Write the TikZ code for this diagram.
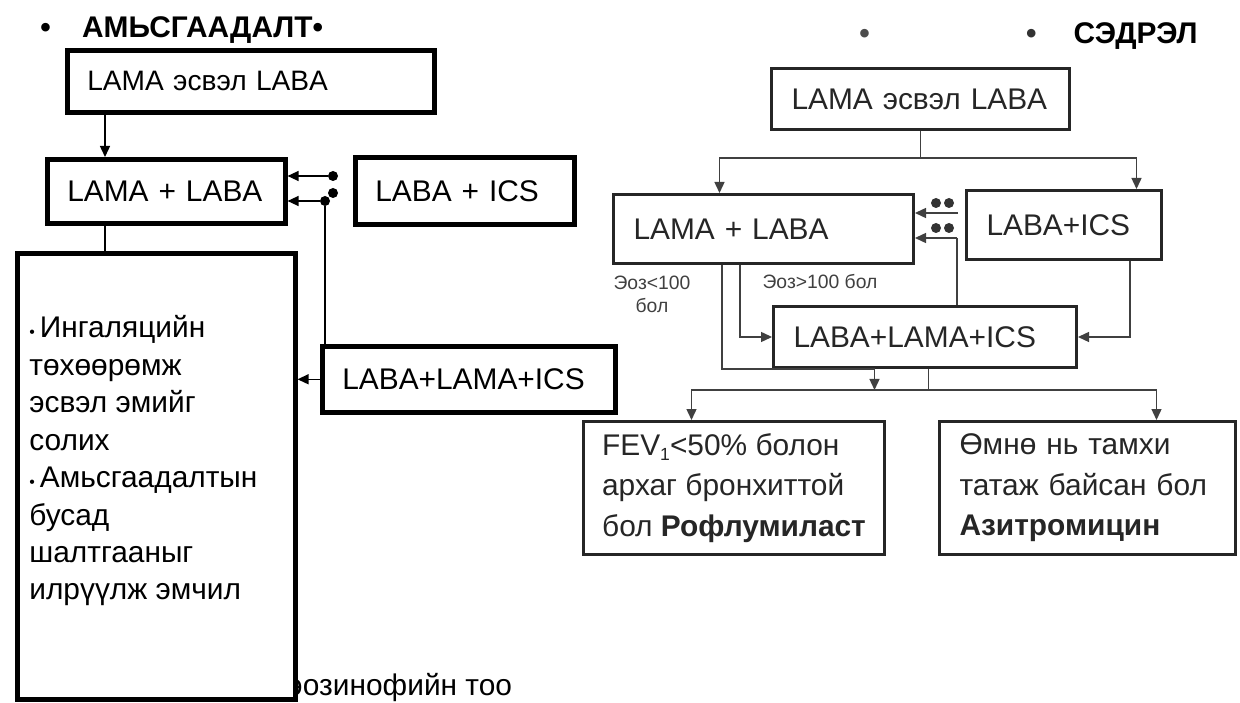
\documentclass[tikz,border=0pt]{standalone}
\usepackage{fontspec}
\setmainfont{Liberation Sans}
\usetikzlibrary{arrows.meta}

\tikzset{
  lbox/.style={draw=black, line width=2.6pt, fill=white, anchor=north west, align=left,
    inner xsep=4mm, inner ysep=0pt, font=\fontsize{17}{21}\selectfont},
  rbox/.style={draw=black!85, line width=1.7pt, fill=white, text=black!85, anchor=north west,
    align=left, inner xsep=4mm, inner ysep=0pt, font=\fontsize{17}{23}\selectfont},
  conn/.style={line width=0.8pt, -{Triangle[length=2.2mm,width=2mm]}},
  wire/.style={line width=0.8pt},
  dot/.style={circle, fill=black, inner sep=0pt, minimum size=2mm},
  note/.style={text=black!75, font=\fontsize{11}{13}\selectfont, align=center},
  heading/.style={font=\bfseries\fontsize{17}{20}\selectfont, anchor=west, inner sep=0pt}
}

\begin{document}
\begin{tikzpicture}[x=0.2mm, y=-0.2mm]
            % One unit is one pixel of the scan, y runs downwards.
            \fill[white] (0,0) rectangle (1240,700);

            % Left column: breathlessness.
            \node[heading] (lefttitle) at (40,30) {•\hspace{1.05em}АМЬСГААДАЛТ•};
            \node[lbox, minimum width=73.4mm, minimum height=12.4mm, text width=65.4mm,
                font=\fontsize{16}{20}\selectfont] (lamaor) at (65,48) {LAMA эсвэл LABA};
            \node[lbox, minimum width=47.6mm, minimum height=12.8mm, text width=39.6mm] (lamalaba) at (45,157) {LAMA + LABA};
            \node[lbox, minimum width=43.8mm, minimum height=13.4mm, text width=35.8mm] (labaics) at (353,155) {LABA + ICS};
            \node[lbox, minimum width=58.6mm, minimum height=13.2mm, text width=50.6mm] (triple) at (320,344) {LABA+LAMA+ICS};

            % The big box hides the first letter of the text below it.
            \node[anchor=west, inner sep=0pt, font=\fontsize{17}{21}\selectfont] (eoscount) at (287,688) {эозинофийн тоо};
            \node[lbox, minimum width=55.6mm, minimum height=89.2mm] (advice) at (15,251) {};
            \node[anchor=west, align=left, inner sep=0pt, font=\fontsize{17}{21.3}\selectfont] (advicetext) at (29,461)
                {{\small•}\,Ингаляцийн\\төхөөрөмж\\эсвэл эмийг\\солих\\{\small•}\,Амьсгаадалтын\\бусад\\шалтгааныг\\илрүүлж эмчил};

            \node[dot] (d1) at (333,176) {};
            \node[dot] (d2) at (333,193) {};
            \node[dot] (d3) at (325,201) {};

            \draw[conn] ([xshift=12mm]lamalaba.north west |- lamaor.south) -- ([xshift=12mm]lamalaba.north west);
            \draw[wire] ([xshift=12mm]lamalaba.south west) -- ([xshift=12mm]lamalaba.south west |- advice.north);
            \draw[conn] (d1) -- (d1 -| lamalaba.east);
            \draw[conn] (d3) -- (d3 -| lamalaba.east);
            \draw[wire] (d3) -- (d3 |- triple.north);
            \draw[conn] (triple.west) -- (triple.west -| advice.east);

            % Right column: exacerbations.
            \node[heading] (righttitle) at (859,36) {{\color{black!70}•}\hspace{89pt}{\color{black!80}•}\hspace{21pt}СЭДРЭЛ};
            \node[rbox, minimum width=59.6mm, minimum height=12.2mm, text width=51.6mm] (ror) at (770,67) {LAMA эсвэл LABA};
            \node[rbox, minimum width=60mm, minimum height=13.8mm, text width=52mm] (rlamalaba) at (612,193) {LAMA + LABA};
            \node[rbox, minimum width=39mm, minimum height=13.8mm, text width=31mm] (rlabaics) at (965,189) {LABA+ICS};
            \node[rbox, minimum width=60.6mm, minimum height=12.2mm, text width=52.6mm] (rtriple) at (772,305) {LABA+LAMA+ICS};
            \node[rbox, minimum width=60.2mm, minimum height=26.6mm, inner xsep=0pt] (rfev) at (582,420)
                {FEV\raisebox{-0.3ex}{\fontsize{10}{10}\selectfont 1}<50\% болон\\архаг бронхиттой\\бол \textbf{Рофлумиласт}};
            \node[rbox, minimum width=59.2mm, minimum height=26.6mm, text width=51.2mm] (razi) at (938,420)
                {Өмнө нь тамхи\\татаж байсан бол\\\textbf{Азитромицин}};

            \node[note] (eozlow) at (652,294) {Эоз<100\\бол};
            \node[note] (eozhigh) at (820,282) {Эоз>100 бол};

            \node[dot, fill=black!80] (rd1) at (936,203) {};
            \node[dot, fill=black!80] (rd2) at (949,203) {};
            \node[dot, fill=black!80] (rd3) at (936,228) {};
            \node[dot, fill=black!80] (rd4) at (949,228) {};
            \coordinate (ra1) at (958,213);
            \coordinate (ra2) at (957,238);

            \begin{scope}[black!75]
                \draw[wire] (ror.south) -- ++(0,27) coordinate (rfork);
                \draw[conn] (rfork) -| ([xshift=-8.8mm]rlamalaba.north);
                \draw[conn] (rfork) -| ([xshift=14.5mm]rlabaics.north);
                \draw[conn] (ra1) -- (ra1 -| rlamalaba.east);
                \draw[conn] (ra2) -- (ra2 -| rlamalaba.east);
                \draw[wire] (ra2) -- (ra2 |- rtriple.north);
                \draw[conn] ([xshift=-6.6mm]rlabaics.south east) |- (rtriple.east);
                \draw[conn] ([xshift=25.6mm]rlamalaba.south west) |- (rtriple.west);
                \draw[wire] ([xshift=0.7mm]rtriple.south) -- ++(0,21) coordinate (rbranch);
                \coordinate (rdrop) at ([xshift=-10.1mm]rtriple.south);
                \draw[conn] ([xshift=22mm]rlamalaba.south west) |- (rdrop) -- (rdrop |- rbranch);
                \draw[conn] (rbranch) -| ([xshift=-8.5mm]rfev.north);
                \draw[conn] (rbranch) -| ([xshift=13.8mm]razi.north);
            \end{scope}
        \end{tikzpicture}
\end{document}
